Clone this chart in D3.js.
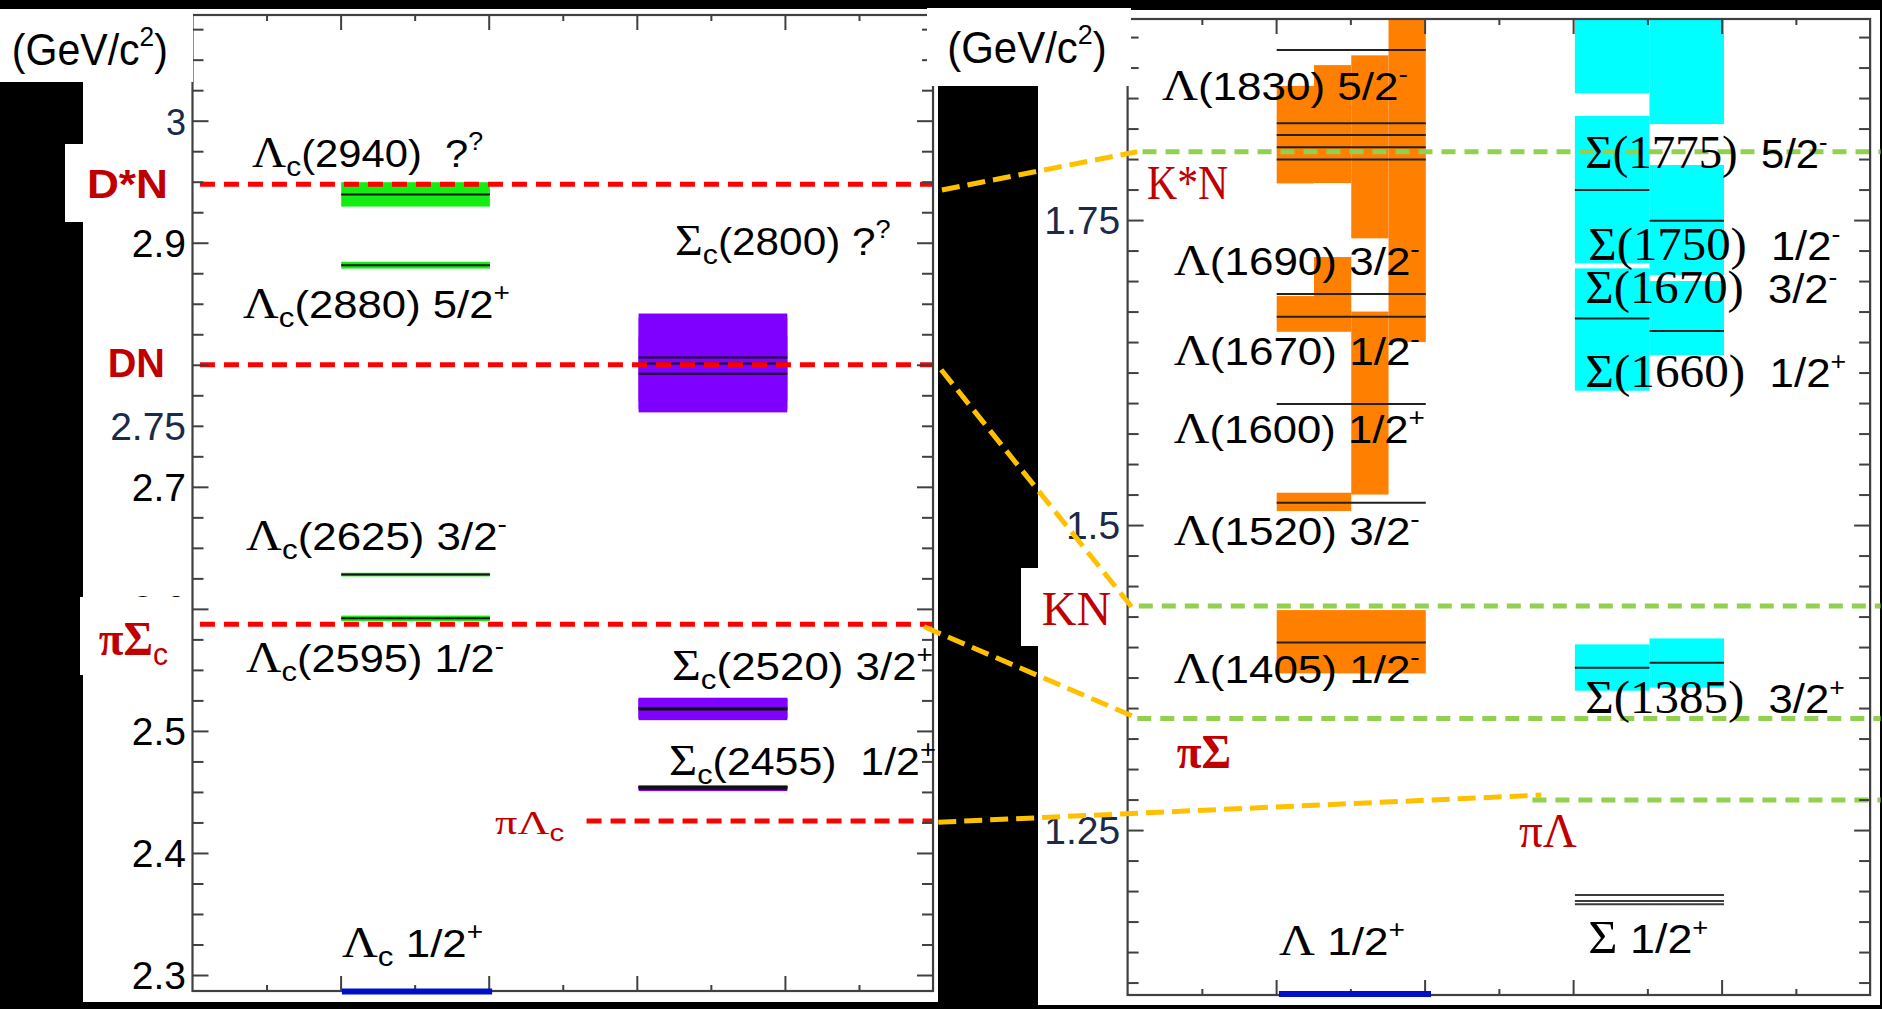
<!DOCTYPE html>
<html>
<head>
<meta charset="utf-8">
<script src="https://cdn.jsdelivr.net/npm/d3@7"></script>
<style>
  html, body { margin: 0; padding: 0; background: #000; }
  svg { display: block; }
</style>
</head>
<body>
<svg id="chart" width="1882" height="1009"></svg>
<script>
// ---------------- data (masses in GeV/c^2) ----------------

// Charmed baryons: resonance bands (mass +/- width/2) in column units
const lambdaCBands = [
  { lo: 2.9296, hi: 2.9496, x0: 2, x1: 4 },   // Λc(2940)
  { lo: 2.8788, hi: 2.8844, x0: 2, x1: 4 },   // Λc(2880)
  { lo: 2.6266, hi: 2.6296, x0: 2, x1: 4 },   // Λc(2625)
  { lo: 2.5901, hi: 2.5945, x0: 2, x1: 4 }    // Λc(2595)
];
const lambdaCLines = [2.9396, 2.8816, 2.6281, 2.5923];
const lambdaCGround = 2.2865;

const sigmaCBands = [
  { lo: 2.7635, hi: 2.8385, x0: 6, x1: 8 },   // Σc(2800)++
  { lo: 2.7610, hi: 2.8230, x0: 6, x1: 8 },   // Σc(2800)+
  { lo: 2.7700, hi: 2.8420, x0: 6, x1: 8 },   // Σc(2800)0
  { lo: 2.5100, hi: 2.5268, x0: 6, x1: 8 },   // Σc(2520)++
  { lo: 2.5088, hi: 2.5262, x0: 6, x1: 8 },   // Σc(2520)+
  { lo: 2.5105, hi: 2.5272, x0: 6, x1: 8 },   // Σc(2520)0
  { lo: 2.4530, hi: 2.4552, x0: 6, x1: 8 },   // Σc(2455)++
  { lo: 2.4507, hi: 2.4553, x0: 6, x1: 8 },   // Σc(2455)+
  { lo: 2.4528, hi: 2.4550, x0: 6, x1: 8 }    // Σc(2455)0
];
const sigmaCLines = [2.806, 2.801, 2.7926, 2.5185, 2.5175, 2.5184, 2.4540, 2.4527, 2.4538];

// Thresholds, charmed sector
const charmThresholds = [
  { name: "D*N", m: 2.948,  x0: 0.1 },
  { name: "DN",  m: 2.800,  x0: 0.1 },
  { name: "πΣc", m: 2.5875, x0: 0.1 },
  { name: "πΛc", m: 2.4262, x0: 5.3 }
];

// Strange baryons: Λ column split into half-unit strips, Σ column into unit strips
const lambdaBands = [
  { lo: 1.3784, hi: 1.4303, x0: 2,   x1: 4   },  // Λ(1405)
  { lo: 1.5115, hi: 1.5265, x0: 2,   x1: 3   },  // Λ(1520)
  { lo: 1.5250, hi: 1.6750, x0: 3,   x1: 3.5 },  // Λ(1600)
  { lo: 1.6584, hi: 1.6877, x0: 2,   x1: 2.5 },  // Λ(1670)
  { lo: 1.6584, hi: 1.7197, x0: 2.5, x1: 3   },  // Λ(1690)
  { lo: 1.6500, hi: 1.9500, x0: 3.5, x1: 4   },  // Λ(1800)
  { lo: 1.7350, hi: 1.8850, x0: 3,   x1: 3.5 },  // Λ(1810)
  { lo: 1.7800, hi: 1.8600, x0: 2,   x1: 2.5 },  // Λ(1820)
  { lo: 1.7803, hi: 1.8770, x0: 2.5, x1: 3   }   // Λ(1830)
];
const lambdaLines = [1.4038, 1.5183, 1.5992, 1.6707, 1.6893, 1.7997, 1.8096, 1.8197, 1.8293, 1.8893];
const lambdaGround = 1.1157;

const sigmaBands = [
  { lo: 1.3642, hi: 1.4022, x0: 6, x1: 7 },  // Σ(1385)+
  { lo: 1.3667, hi: 1.4071, x0: 7, x1: 8 },  // Σ(1385)-
  { lo: 1.6101, hi: 1.7104, x0: 6, x1: 7 },  // Σ(1660)
  { lo: 1.6393, hi: 1.7000, x0: 7, x1: 8 },  // Σ(1670)
  { lo: 1.7050, hi: 1.7951, x0: 7, x1: 8 },  // Σ(1750)
  { lo: 1.7145, hi: 1.8353, x0: 6, x1: 7 },  // Σ(1775)
  { lo: 1.8539, hi: 1.9750, x0: 6, x1: 7 },  // Σ(1915)
  { lo: 1.8287, hi: 2.0500, x0: 7, x1: 8 }   // Σ(1940)
];
const sigmaLines = [
  { m: 1.3830, x0: 6, x1: 7 },
  { m: 1.3871, x0: 7, x1: 8 },
  { m: 1.6694, x0: 6, x1: 7 },
  { m: 1.6590, x0: 7, x1: 8 },
  { m: 1.7494, x0: 7, x1: 8 },
  { m: 1.7746, x0: 6, x1: 7 }
];
const sigmaGround = [1.1967, 1.1918, 1.1891];

// Thresholds, strange sector
const strangeThresholds = [
  { name: "K*N", m: 1.806,  x0: 0.2 },
  { name: "KN",  m: 1.4336, x0: 0.15 },
  { name: "πΣ",  m: 1.3415, x0: 0.13 },
  { name: "πΛ",  m: 1.2746, x0: 5.43 }
];

// Links between corresponding thresholds (left mass/column -> right mass/column)
const links = [
  { l: 2.9432, lx: 10.08, r: 1.806,  rx: 0.13 },
  { l: 2.7959, lx: 10.07, r: 1.4295, rx: 0.10 },
  { l: 2.5853, lx: 9.84,  r: 1.3415, rx: 0.14 },
  { l: 2.4252, lx: 10.03, r: 1.2787, rx: 5.55 }
];

// Axis tick labels
const leftTickLabels  = [3, 2.9, 2.75, 2.7, 2.6, 2.5, 2.4, 2.3];
const rightTickLabels = [1.75, 1.5, 1.25];
const softTicks = [3, 2.75, 1.75, 1.5, 1.25];

// ---------------- drawing ----------------
const svg = d3.select("#chart");

const xL = d3.scaleLinear().domain([0, 10]).range([192.5, 936]);
const yL = d3.scaleLinear().domain([2.2869, 3.0866]).range([991, 15]);
const xR = d3.scaleLinear().domain([0, 10]).range([1127.6, 1873.1]);
const yR = d3.scaleLinear().domain([1.1148, 1.9148]).range([995, 19]);

const SANS = "'Liberation Sans', Arial, sans-serif";
const SERIF = "'Liberation Serif', 'Times New Roman', serif";
const RED_TXT = "#c00000";
const C = {
  lambdaC: "#12ee12", sigmaC: "#8000ff", lambda: "#ff8000", sigma: "#00ffff",
  ground: "#0010c8", red: "#ff0000", green: "#92d050", gold: "#ffc000", frame: "#404040"
};

// background & panel areas
svg.append("rect").attr("width", 1882).attr("height", 1009).attr("fill", "#000");
const bg = svg.append("g");
bg.append("rect").attr("x", 83).attr("y", 9).attr("width", 855).attr("height", 993).attr("fill", "#fff");
bg.append("rect").attr("x", 1038).attr("y", 10).attr("width", 842).attr("height", 995).attr("fill", "#fff");

// clip paths for each plot frame
const defs = svg.append("defs");
defs.append("clipPath").attr("id", "clipL").append("rect")
  .attr("x", xL(0)).attr("y", yL.range()[1]).attr("width", xL(10) - xL(0)).attr("height", yL.range()[0] - yL.range()[1]);
defs.append("clipPath").attr("id", "clipR").append("rect")
  .attr("x", xR(0)).attr("y", yR.range()[1]).attr("width", xR(10) - xR(0)).attr("height", yR.range()[0] - yR.range()[1]);

const gL = svg.append("g").attr("clip-path", "url(#clipL)");
const gR = svg.append("g").attr("clip-path", "url(#clipR)");

function bands(g, data, xs, ys, color) {
  g.append("g").selectAll("rect").data(data).join("rect")
    .attr("x", d => xs(d.x0)).attr("width", d => xs(d.x1) - xs(d.x0))
    .attr("y", d => ys(d.hi)).attr("height", d => ys(d.lo) - ys(d.hi))
    .attr("fill", color);
}
function levels(g, data, xs, ys, color, width) {
  g.append("g").selectAll("line").data(data).join("line")
    .attr("x1", d => xs(d.x0)).attr("x2", d => xs(d.x1))
    .attr("y1", d => ys(d.m)).attr("y2", d => ys(d.m))
    .attr("stroke", color).attr("stroke-width", width);
}

// left panel marks
bands(gL, lambdaCBands, xL, yL, C.lambdaC);
bands(gL, sigmaCBands, xL, yL, C.sigmaC);
levels(gL, lambdaCLines.map(m => ({ m, x0: 2, x1: 4 })), xL, yL, "#111", 2);
levels(gL, sigmaCLines.map(m => ({ m, x0: 6, x1: 8 })), xL, yL, "#111", 2);

// right panel marks
bands(gR, lambdaBands, xR, yR, C.lambda);
bands(gR, sigmaBands, xR, yR, C.sigma);
levels(gR, lambdaLines.map(m => ({ m, x0: 2, x1: 4 })), xR, yR, "#222", 2);
levels(gR, sigmaLines, xR, yR, "#222", 2);
levels(gR, sigmaGround.map(m => ({ m, x0: 6, x1: 8 })), xR, yR, "#3a3a3a", 2);

// threshold lines
svg.append("g").selectAll("line").data(charmThresholds).join("line")
  .attr("x1", d => xL(d.x0)).attr("x2", xL(9.96))
  .attr("y1", d => yL(d.m)).attr("y2", d => yL(d.m))
  .attr("stroke", C.red).attr("stroke-width", 5).attr("stroke-dasharray", "15,9");
svg.append("g").selectAll("line").data(strangeThresholds).join("line")
  .attr("x1", d => xR(d.x0)).attr("x2", xR(10.1))
  .attr("y1", d => yR(d.m)).attr("y2", d => yR(d.m))
  .attr("stroke", C.green).attr("stroke-width", 5).attr("stroke-dasharray", "14,9");

// frames and ticks
function frame(xs, ys, yMajorStep) {
  const g = svg.append("g");
  const [x0, x1] = xs.range(), [yb, yt] = ys.range();
  const xTicks = d3.range(1, 10);
  const d0 = ys.domain()[0], d1 = ys.domain()[1];
  const yVals = d3.range(Math.ceil(d0 / 0.025 - 1e-6), Math.floor(d1 / 0.025 + 1e-6) + 1).map(i => +(i * 0.025).toFixed(4));
  const isMajor = v => Math.abs(v / yMajorStep - Math.round(v / yMajorStep)) < 1e-6;
  const yMaj = yVals.filter(isMajor), yMin = yVals.filter(v => !isMajor(v));
  const xMaj = xTicks.filter(v => v % 2 === 0), xMin = xTicks.filter(v => v % 2 === 1);
  const put = (axis, tx, ty) => {
    const a = g.append("g").attr("transform", `translate(${tx},${ty})`).call(axis);
    a.select(".domain").remove();
    a.selectAll("line").attr("stroke", C.frame).attr("stroke-width", 2);
  };
  put(d3.axisRight(ys).tickValues(yMaj).tickSize(16).tickFormat(""), x0, 0);
  put(d3.axisRight(ys).tickValues(yMin).tickSize(11).tickFormat(""), x0, 0);
  put(d3.axisLeft(ys).tickValues(yMaj).tickSize(16).tickFormat(""), x1, 0);
  put(d3.axisLeft(ys).tickValues(yMin).tickSize(11).tickFormat(""), x1, 0);
  put(d3.axisBottom(xs).tickValues(xMaj).tickSize(15).tickFormat(""), 0, yt);
  put(d3.axisBottom(xs).tickValues(xMin).tickSize(6).tickFormat(""), 0, yt);
  put(d3.axisTop(xs).tickValues(xMaj).tickSize(15).tickFormat(""), 0, yb);
  put(d3.axisTop(xs).tickValues(xMin).tickSize(6).tickFormat(""), 0, yb);
  g.append("rect").attr("x", x0).attr("y", yt).attr("width", x1 - x0).attr("height", yb - yt)
    .attr("fill", "none").attr("stroke", C.frame).attr("stroke-width", 2.2);
}
frame(d3.scaleLinear().domain([0, 10]).range([xL(0), xL(9.96)]), yL, 0.1);
frame(d3.scaleLinear().domain([0, 10]).range([xR(0), xR(9.96)]), yR, 0.25);

// ground-state bars sit on the bottom frame line
levels(svg, [{ m: lambdaCGround, x0: 2.01, x1: 4.03 }], xL, yL, C.ground, 6);
levels(svg, [{ m: lambdaGround, x0: 2.03, x1: 4.07 }], xR, yR, C.ground, 6);

// tick labels
function tickLabels(vals, xs, ys, xu) {
  svg.append("g").selectAll("text").data(vals).join("text")
    .attr("x", xs(xu)).attr("y", d => ys(d) + 14)
    .attr("text-anchor", "end")
    .attr("font-family", SANS)
    .attr("font-size", d => d === 3 ? 36 : 39)
    .attr("fill", d => softTicks.includes(d) ? "#1b2a4a" : "#000")
    .text(d => String(d));
}
tickLabels(leftTickLabels, xL, yL, -0.087);
tickLabels(rightTickLabels, xR, yR, -0.10);

// white label boxes
const boxes = [[0, 9, 193, 73], [65, 144, 125, 78], [80, 597, 110, 78], [927, 8, 204, 78], [1021, 568, 104, 78]];
svg.append("g").selectAll("rect").data(boxes).join("rect")
  .attr("x", d => d[0]).attr("y", d => d[1]).attr("width", d => d[2]).attr("height", d => d[3])
  .attr("fill", "#fff");

// text labels: segments [text, style]; position [x-start unit, baseline mass, x-end unit]
const STY = {
  g:    { ff: SERIF, fs: 44, off: 0 },
  G:    { ff: SERIF, fs: 46, off: 0 },
  s:    { ff: SANS,  fs: 39, off: 0 },
  S:    { ff: SANS,  fs: 41, off: 0 },
  sub:  { ff: SANS,  fs: 28, off: 9 },
  sup:  { ff: SANS,  fs: 25, off: -17 },
  rb:   { ff: SANS,  fs: 41, off: 0, fw: "bold", fill: RED_TXT },
  rs:   { ff: SERIF, fs: 48, off: 0, fill: RED_TXT },
  rsb:  { ff: SERIF, fs: 48, off: 0, fw: "bold", fill: RED_TXT },
  rsub: { ff: SANS,  fs: 32, off: 10, fill: RED_TXT }
};

const leftLabels = [
  { segs: [["Λ", "g"], ["c", "sub"], ["(2940)  ?", "s"], ["?", "sup"]], at: [0.80, 2.9623, 3.91] },
  { segs: [["Λ", "g"], ["c", "sub"], ["(2880) 5/2", "s"], ["+", "sup"]], at: [0.68, 2.8380, 4.27] },
  { segs: [["Σ", "g"], ["c", "sub"], ["(2800) ?", "s"], ["?", "sup"]], at: [6.49, 2.8899, 9.39] },
  { segs: [["Λ", "g"], ["c", "sub"], ["(2625) 3/2", "s"], ["-", "sup"]], at: [0.72, 2.6481, 4.23] },
  { segs: [["Λ", "g"], ["c", "sub"], ["(2595) 1/2", "s"], ["-", "sup"]], at: [0.72, 2.5481, 4.19] },
  { segs: [["Σ", "g"], ["c", "sub"], ["(2520) 3/2", "s"], ["+", "sup"]], at: [6.45, 2.5415, 9.96] },
  { segs: [["Σ", "g"], ["c", "sub"], ["(2455)  1/2", "s"], ["+", "sup"]], at: [6.41, 2.4637, 10.0] },
  { segs: [["Λ", "g"], ["c", "sub"], [" 1/2", "s"], ["+", "sup"]], at: [2.01, 2.3148, 3.91] },
  { segs: [["D*N", "rb"]], at: [-1.42, 2.9364, -0.33] },
  { segs: [["DN", "rb"]], at: [-1.14, 2.7902, -0.37] },
  { segs: [["πΣ", "rsb"], ["c", "rsub"]], at: [-1.26, 2.5620, -0.33] },
  { segs: [["πΛ", "rs"], ["c", "rsub"]], at: [4.07, 2.4159, 5.00], k: 0.72 },
  { segs: [["(GeV/c", "s"], ["2", "sup"], [")", "s"]], at: [-2.43, 3.0457, -0.33], k: 1.12 }
];
const rightLabels = [
  { segs: [["Λ", "g"], ["(1830) 5/2", "s"], ["-", "sup"]], at: [0.46, 1.8484, 3.76] },
  { segs: [["Λ", "g"], ["(1690) 3/2", "s"], ["-", "sup"]], at: [0.62, 1.7049, 3.92] },
  { segs: [["Λ", "g"], ["(1670) 1/2", "s"], ["-", "sup"]], at: [0.62, 1.6311, 3.92] },
  { segs: [["Λ", "g"], ["(1600) 1/2", "s"], ["+", "sup"]], at: [0.62, 1.5670, 3.99] },
  { segs: [["Λ", "g"], ["(1520) 3/2", "s"], ["-", "sup"]], at: [0.62, 1.4836, 3.92] },
  { segs: [["Λ", "g"], ["(1405) 1/2", "s"], ["-", "sup"]], at: [0.62, 1.3702, 3.92] },
  { segs: [["Λ", "g"], [" 1/2", "s"], ["+", "sup"]], at: [2.03, 1.1475, 3.72] },
  { segs: [["Σ(1775)", "G"], ["  5/2", "S"], ["-", "sup"]], at: [6.14, 1.7924, 9.39] },
  { segs: [["Σ(1750)", "G"], ["  1/2", "S"], ["-", "sup"]], at: [6.18, 1.7172, 9.56] },
  { segs: [["Σ(1670)", "G"], ["  3/2", "S"], ["-", "sup"]], at: [6.14, 1.6817, 9.52] },
  { segs: [["Σ(1660)", "G"], ["  1/2", "S"], ["+", "sup"]], at: [6.14, 1.6134, 9.64] },
  { segs: [["Σ(1385)", "G"], ["  3/2", "S"], ["+", "sup"]], at: [6.14, 1.3457, 9.62] },
  { segs: [["Σ", "G"], [" 1/2", "S"], ["+", "sup"]], at: [6.18, 1.1489, 7.79] },
  { segs: [["K*N", "rs"]], at: [0.26, 1.7670, 1.35] },
  { segs: [["KN", "rs"]], at: [-1.15, 1.4180, -0.22] },
  { segs: [["πΣ", "rsb"]], at: [0.66, 1.3008, 1.39] },
  { segs: [["πΛ", "rs"]], at: [5.25, 1.2363, 6.03] },
  { segs: [["(GeV/c", "s"], ["2", "sup"], [")", "s"]], at: [-2.42, 1.8787, -0.28], k: 1.12 }
];

function drawLabel(g, spec, xs, ys) {
  const [u0, m, u1] = spec.at;
  const k = spec.k || 1;
  const t = g.append("text").attr("x", 0).attr("y", 0).style("white-space", "pre");
  let cur = 0;
  spec.segs.forEach(([txt, key]) => {
    const st = STY[key];
    const off = st.off * k;
    t.append("tspan")
      .attr("dy", off - cur)
      .attr("font-family", st.ff)
      .attr("font-size", st.fs * k)
      .attr("font-weight", st.fw || "normal")
      .attr("fill", st.fill || "#000")
      .text(txt);
    cur = off;
  });
  const w = t.node().getBBox().width;
  const sx = (xs(u1) - xs(u0)) / w;
  t.attr("transform", `translate(${xs(u0)},${ys(m)}) scale(${sx},1)`);
}
const gText = svg.append("g");
leftLabels.forEach(s => drawLabel(gText, s, xL, yL));
rightLabels.forEach(s => drawLabel(gText, s, xR, yR));

// connecting links between the two panels
svg.append("g").selectAll("line").data(links).join("line")
  .attr("x1", d => xL(d.lx)).attr("y1", d => yL(d.l))
  .attr("x2", d => xR(d.rx)).attr("y2", d => yR(d.r))
  .attr("stroke", C.gold).attr("stroke-width", 5).attr("stroke-dasharray", "18,8");
</script>
</body>
</html>
